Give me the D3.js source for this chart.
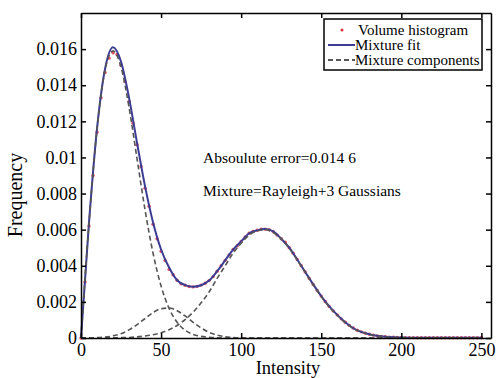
<!DOCTYPE html>
<html>
<head>
<meta charset="utf-8">
<script src="https://cdn.jsdelivr.net/npm/d3@7"></script>
<style>
  body { margin: 0; background: #fff; }
  svg { display: block; font-family: "Liberation Serif", "Times New Roman", serif; }
  .axis text { font-size: 18px; fill: #000; font-family: "Liberation Serif", "Times New Roman", serif; }
  .axis path, .axis line { stroke: #000; stroke-width: 1.5; }
</style>
</head>
<body>
<svg id="chart" width="496" height="378"></svg>
<script>
// intensity grid used by the fit and its components
const intensity = [0, 5, 10, 15, 20, 25, 30, 35, 40, 45, 50, 55, 60, 65, 70, 75, 80, 85, 90, 95,
  100, 105, 110, 115, 120, 125, 130, 135, 140, 145, 150, 155, 160, 165, 170, 175, 180, 185, 190, 195,
  200, 205, 210, 215, 220, 225, 230, 235, 240, 245, 250];

const mixtureFit = [0, .0064, .0116, .0149, .0161, .0153, .0133, .0108, .0084, .0064, .0049, .0039, .0032, .00293, .00284, .00292, .00318, .0037, .0043, .0049,
  .00535, .0058, .00596, .00604, .0059, .0055, .0050, .00435, .00366, .00297, .00232, .00175, .00128, .00087, .00054, .00034, .00021, .00012, .00007, .00004,
  .00003, .00002, .00001, .00001, .00001, .00001, .00001, .00001, .00001, .00001, .00001];

const rayleigh = [0, .00635, .01157, .01484, .0159, .0150, .01277, .00992, .00709, .00469, .00288, .00164, .00087, .00043, .0002, .00009, .00004, .00001, 0, 0,
  0, 0, 0, 0, 0, 0, 0, 0, 0, 0, 0, 0, 0, 0, 0, 0, 0, 0, 0, 0,
  0, 0, 0, 0, 0, 0, 0, 0, 0, 0, 0];

const gaussSmall = [0, .00001, .00002, .00005, .00012, .00024, .00045, .00074, .00108, .00141, .00162, .00166, .00151, .00122, .00087, .00056, .00031, .00016, .00007, .00003,
  .00001, 0, 0, 0, 0, 0, 0, 0, 0, 0, 0, 0, 0, 0, 0, 0, 0, 0, 0, 0,
  0, 0, 0, 0, 0, 0, 0, 0, 0, 0, 0];

const gaussLarge = [0, 0, 0, 0, .00001, .00002, .00003, .00006, .00011, .00018, .00029, .00046, .00069, .00102, .00143, .00195, .00255, .0033, .0040, .0047,
  .00525, .0057, .00593, .006, .00584, .00549, .00497, .00433, .00364, .00295, .0023, .00173, .00126, .00085, .00053, .00033, .0002, .00011, .00006, .00003,
  .00002, .00001, 0, 0, 0, 0, 0, 0, 0, 0, 0];

// histogram bins
const histBins = [0, 2.5, 5, 7.5, 10, 12.5, 15, 17.5, 20, 22.5, 25, 27.5, 30, 32.5, 35, 37.5, 40, 42.5, 45, 47.5,
  50, 52.5, 55, 57.5, 60, 62.5, 65, 67.5, 70, 72.5, 75, 77.5, 80, 82.5, 85, 87.5, 90, 92.5, 95, 97.5,
  100, 102.5, 105, 107.5, 110, 112.5, 115, 117.5, 120, 122.5, 125, 127.5, 130, 132.5, 135, 137.5, 140, 142.5, 145, 147.5,
  150, 152.5, 155, 157.5, 160, 162.5, 165, 167.5, 170, 172.5, 175, 177.5, 180, 182.5, 185, 187.5, 190, 192.5, 195, 197.5,
  200, 202.5, 205, 207.5, 210, 212.5, 215, 217.5, 220, 222.5, 225, 227.5, 230, 232.5, 235, 237.5, 240, 242.5, 245, 247.5, 250];
const histValues = [0, .0031, .0062, .0090, .0114, .0133, .0147, .0155, .0158, .0157, .0151, .0142, .0131, .0119, .0107, .0095, .0083, .0073, .0063, .0055,
  .0048, .0043, .0038, .0035, .0032, .0030, .00292, .00285, .00283, .00286, .00293, .00303, .00318, .0034, .0037, .0040, .0043, .0046, .0049, .0051,
  .00535, .0056, .0058, .0059, .00597, .00602, .00603, .006, .0059, .0057, .0055, .0053, .0050, .0047, .00435, .0040, .00366, .0033, .00297, .00264,
  .00232, .00202, .00175, .0015, .00128, .00106, .00087, .0007, .00055, .00043, .00034, .00027, .00021, .00016, .00012, .00009, .00007, .00005, .00004, .00003,
  .00003, .00002, .00002, .00002, .00001, .00001, .00001, .00001, .00001, .00001, .00001, .00001, .00001, .00001, .00001, .00001, .00001, .00001, .00001, .00001, .00001];

const xTicks = [0, 50, 100, 150, 200, 250];
const yTicks = [0, 0.002, 0.004, 0.006, 0.008, 0.01, 0.012, 0.014, 0.016];
const legendLabels = ["Volume histogram", "Mixture fit", "Mixture components"];
const notes = ["Absoulute error=0.014 6", "Mixture=Rayleigh+3 Gaussians"];

const margin = {left: 81, right: 5, top: 13, bottom: 40};
const width = 496, height = 378;

const svg = d3.select("#chart");

const x = d3.scaleLinear().domain([0, 256]).range([margin.left, width - margin.right]);
const y = d3.scaleLinear().domain([0, 0.018]).range([height - margin.bottom, margin.top]);

const colorHist = "#e0303f", colorFit = "#3c3c94", colorComp = "#555";

// histogram dots
svg.append("g").selectAll("circle")
  .data(histBins.map((b, i) => ({b, v: histValues[i]})))
  .join("circle")
  .attr("cx", d => x(d.b))
  .attr("cy", d => y(d.v))
  .attr("r", 1.7)
  .attr("fill", colorHist)
  .attr("opacity", 0.85);

const line = d3.line().x(d => x(d[0])).y(d => y(d[1])).curve(d3.curveMonotoneX);

svg.append("path")
  .datum(intensity.map((t, i) => [t, mixtureFit[i]]))
  .attr("d", line)
  .attr("fill", "none")
  .attr("stroke", colorFit)
  .attr("stroke-width", 2);

[rayleigh, gaussSmall, gaussLarge].forEach(comp => {
  svg.append("path")
    .datum(intensity.map((t, i) => [t, comp[i]]))
    .attr("d", line)
    .attr("fill", "none")
    .attr("stroke", colorComp)
    .attr("stroke-width", 1.6)
    .attr("stroke-dasharray", "5,3");
});

// axes, MATLAB style box with inward ticks
const fmt = d => d === 0 ? "0" : String(+d.toFixed(3));
svg.append("g").attr("class", "axis")
  .attr("transform", `translate(0,${y(0)})`)
  .call(d3.axisBottom(x).tickValues(xTicks).tickSize(-5).tickSizeOuter(0).tickPadding(5));
svg.append("g").attr("class", "axis")
  .attr("transform", `translate(0,${margin.top})`)
  .call(d3.axisTop(x).tickValues(xTicks).tickSize(-5).tickSizeOuter(0).tickFormat(""));
svg.append("g").attr("class", "axis left")
  .attr("transform", `translate(${margin.left},0)`)
  .call(d3.axisLeft(y).tickValues(yTicks).tickSize(-5).tickSizeOuter(0).tickPadding(4).tickFormat(fmt));
svg.append("g").attr("class", "axis")
  .attr("transform", `translate(${width - margin.right},0)`)
  .call(d3.axisRight(y).tickValues(yTicks).tickSize(-5).tickSizeOuter(0).tickFormat(""));
svg.select(".left .domain").attr("stroke-width", 2.2);

// axis titles
svg.append("text")
  .attr("x", (margin.left + width - margin.right) / 2 + 2)
  .attr("y", 374)
  .attr("text-anchor", "middle")
  .attr("font-size", 18.5)
  .text("Intensity");
svg.append("text")
  .attr("transform", "translate(22,195) rotate(-90)")
  .attr("text-anchor", "middle")
  .attr("font-size", 20)
  .text("Frequency");

// annotations
svg.append("g").selectAll("text")
  .data(notes)
  .join("text")
  .attr("x", 203)
  .attr("y", (d, i) => 163 + i * 33)
  .attr("font-size", 15.5)
  .text(d => d);

// legend
const lg = svg.append("g");
lg.append("rect")
  .attr("x", 324).attr("y", 19).attr("width", 158).attr("height", 51)
  .attr("fill", "#fff").attr("stroke", "#000").attr("stroke-width", 1.5);
const rowY = [30, 45, 60];
lg.append("circle").attr("cx", 342).attr("cy", rowY[0]).attr("r", 1.5).attr("fill", colorHist);
lg.append("line").attr("x1", 328).attr("x2", 355).attr("y1", rowY[1]).attr("y2", rowY[1])
  .attr("stroke", colorFit).attr("stroke-width", 2);
lg.append("line").attr("x1", 328).attr("x2", 355).attr("y1", rowY[2]).attr("y2", rowY[2])
  .attr("stroke", "#222").attr("stroke-width", 1.6).attr("stroke-dasharray", "5,3");
lg.selectAll("text.lbl")
  .data(legendLabels)
  .join("text")
  .attr("class", "lbl")
  .attr("x", (d, i) => i === 0 ? 358 : 355)
  .attr("y", (d, i) => rowY[i] + 5)
  .attr("font-size", 15)
  .text(d => d);
</script>
</body>
</html>
